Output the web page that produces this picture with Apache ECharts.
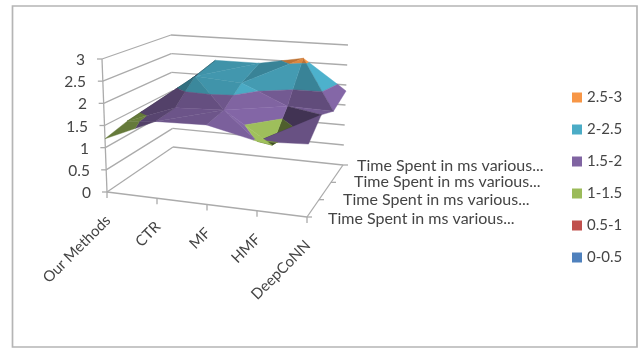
<!DOCTYPE html>
<html>
<head>
<meta charset="utf-8">
<style>html,body{margin:0;padding:0;background:#fff}#chart{width:638px;height:349px}</style>
<script src="https://cdn.jsdelivr.net/npm/echarts@6/dist/echarts.min.js"></script>
</head>
<body>
<div id="chart"></div>
<script>
// Methods along the front edge, runs along the depth edge.
var methods = ['Our Methods', 'CTR', 'MF', 'HMF', 'DeepCoNN'];
var runLabels = ['Time Spent in ms various...', 'Time Spent in ms various...', 'Time Spent in ms various...', 'Time Spent in ms various...'];
var valueTicks = [0, 0.5, 1, 1.5, 2, 2.5, 3];

// Time spent per method, one list per run (front to back).
var run1 = [1.2, 1.7, 1.73, 1.48, 1.53];
var run2 = [1.33, 1.75, 1.8, 1.1, 1.88];
var run3 = [1.25, 2.25, 2.17, 1.7, 1.67];
var run4 = [1.42, 2.4, 2.4, 2.6, 1.85];
var runs = [run1, run2, run3, run4];

var bandNames = ['2.5-3', '2-2.5', '1.5-2', '1-1.5', '0.5-1', '0-0.5'];
var bandLows = [2.5, 2, 1.5, 1, 0.5, 0];
var bandColors = ['#F79646', '#4BACC6', '#8064A2', '#9BBB59', '#C0504D', '#4F81BD'];

// Screen positions of the eight corners of the plot box.
var box = {
  floorFL: [107, 192], floorFR: [307, 217], floorBL: [173, 147], floorBR: [343, 165],
  topFL: [102, 59], topFR: [310, 74], topBL: [171, 35], topBR: [348, 45]
};
var zMax = 3;

function mix(a, b, t) { return [a[0] + (b[0] - a[0]) * t, a[1] + (b[1] - a[1]) * t]; }

// Maps (method index, run index, value) onto the page through the box corners.
function project(i, j, z) {
  var u = i / (methods.length - 1), v = j / (runs.length - 1), w = z / zMax;
  var floor = mix(mix(box.floorFL, box.floorFR, u), mix(box.floorBL, box.floorBR, u), v);
  var top = mix(mix(box.topFL, box.topFR, u), mix(box.topBL, box.topBR, u), v);
  return mix(floor, top, w);
}

function height(n) { return runs[n[1]][n[0]]; }
function vertex(n) { return [n[0], n[1], height(n)]; }

// Each cell folds along its higher diagonal; far cells and far triangles come first.
var facets = [];
for (var j = runs.length - 2; j >= 0; j--) {
  for (var i = methods.length - 2; i >= 0; i--) {
    var a = [i, j], b = [i + 1, j], c = [i + 1, j + 1], d = [i, j + 1];
    if (height(a) + height(c) >= height(b) + height(d)) {
      facets.push([a, c, d]);
      facets.push([a, b, c]);
    } else {
      facets.push([b, c, d]);
      facets.push([a, b, d]);
    }
  }
}

// Cuts a triangle down to the part lying between two values.
function clipBand(tri, lo, hi) {
  function cut(poly, keep, level) {
    var out = [];
    for (var k = 0; k < poly.length; k++) {
      var p = poly[k], q = poly[(k + 1) % poly.length];
      var kp = keep(p[2]), kq = keep(q[2]);
      if (kp) out.push(p);
      if (kp !== kq) {
        var t = (level - p[2]) / (q[2] - p[2]);
        out.push([p[0] + (q[0] - p[0]) * t, p[1] + (q[1] - p[1]) * t, level]);
      }
    }
    return out;
  }
  var res = cut(tri, function (z) { return z >= lo; }, lo);
  if (res.length) res = cut(res, function (z) { return z <= hi; }, hi);
  return res;
}

// Lambert-style brightness, lit mostly from the right of the box.
function brightness(tri) {
  var cellW = 0.55, cellD = 0.43, unit = 1 / 3;
  var p = tri[0], q = tri[1], r = tri[2];
  var e1 = [(q[0] - p[0]) * cellW, (q[1] - p[1]) * cellD, (q[2] - p[2]) * unit];
  var e2 = [(r[0] - p[0]) * cellW, (r[1] - p[1]) * cellD, (r[2] - p[2]) * unit];
  var n = [e1[1] * e2[2] - e1[2] * e2[1], e1[2] * e2[0] - e1[0] * e2[2], e1[0] * e2[1] - e1[1] * e2[0]];
  if (n[2] < 0) n = [-n[0], -n[1], -n[2]];
  var len = Math.sqrt(n[0] * n[0] + n[1] * n[1] + n[2] * n[2]);
  var lit = (0.9 * n[0] + 0.15 * n[1] + 0.4 * n[2]) / len;
  var f = Math.max(0.5, Math.min(1.03, 0.87 + 0.75 * (lit - 0.4)));
  var p0 = project(p[0], p[1], p[2]), p1 = project(q[0], q[1], q[2]), p2 = project(r[0], r[1], r[2]);
  var area = (p1[0] - p0[0]) * (p2[1] - p0[1]) - (p1[1] - p0[1]) * (p2[0] - p0[0]);
  return area > 0 ? f * 0.75 : f;
}

function shade(hex, f) {
  var n = parseInt(hex.slice(1), 16);
  var c = [n >> 16, (n >> 8) & 255, n & 255].map(function (x) {
    return Math.max(0, Math.min(255, Math.round(x * f)));
  });
  return 'rgb(' + c.join(',') + ')';
}

function bandSeries(b) {
  var lo = bandLows[b], hi = lo + 0.5;
  var items = [];
  facets.forEach(function (f, order) {
    if (clipBand(f.map(vertex), lo, hi).length >= 3) items.push([order]);
  });
  return {
    type: 'custom',
    name: bandNames[b],
    coordinateSystem: 'cartesian2d',
    itemStyle: { color: bandColors[b] },
    silent: true,
    z: 3,
    data: items,
    encode: { x: [], y: [] },
    renderItem: function (params, api) {
      var order = api.value(0);
      var tri = facets[order].map(vertex);
      var poly = clipBand(tri, lo, hi);
      var fill = shade(bandColors[b], brightness(tri));
      return {
        type: 'polygon',
        z2: order * 2 + 10,
        shape: { points: poly.map(function (p) { return api.coord(project(p[0], p[1], p[2])); }) },
        style: { fill: fill, stroke: fill, lineWidth: 0.4 }
      };
    }
  };
}

var lineColor = '#ababab';
var textColor = '#454545';
var textFont = 'Lato, "Open Sans", sans-serif';

function line(api, p0, p1) {
  var p = api.coord(p0), q = api.coord(p1);
  return { type: 'line', shape: { x1: p[0], y1: p[1], x2: q[0], y2: q[1] }, style: { stroke: lineColor, lineWidth: 1.3 } };
}
function label(api, at, text, align, size, rotation) {
  var p = api.coord(at);
  return {
    type: 'text', x: p[0], y: p[1], rotation: rotation || 0,
    style: { text: text, fill: textColor, font: size + 'px ' + textFont, align: align, verticalAlign: 'middle' }
  };
}

var lastI = methods.length - 1, lastJ = runs.length - 1;

// Walls, floor, ticks and tick labels of the box.
var frameSeries = {
  type: 'custom',
  name: 'frame',
  coordinateSystem: 'cartesian2d',
  silent: true,
  z: 2,
  data: [[0]],
  encode: { x: [], y: [] },
  renderItem: function (params, api) {
    var kids = [];
    valueTicks.forEach(function (t) {
      var fl = project(0, 0, t), bl = project(0, lastJ, t), br = project(lastI, lastJ, t);
      kids.push(line(api, fl, bl), line(api, bl, br));
      kids.push(line(api, fl, [fl[0] - 5, fl[1]]));
      kids.push(label(api, [fl[0] - 17 + (3 - t) * 0.3, fl[1] + 1], String(t), 'right', 15.5));
    });
    kids.push(line(api, project(0, 0, 0), project(0, 0, zMax)));
    kids.push(line(api, project(0, 0, 0), project(lastI, 0, 0)));
    kids.push(line(api, project(lastI, 0, 0), project(lastI, lastJ, 0)));
    methods.forEach(function (m, i) {
      var p = project(i, 0, 0);
      kids.push(line(api, p, [p[0], p[1] + 6]));
      kids.push(label(api, [p[0] + 1, p[1] + 26], m, 'right', 15, Math.PI / 4));
    });
    runLabels.forEach(function (r, j) {
      var p = project(lastI, j, 0);
      kids.push(line(api, p, [p[0] + 5, p[1]]));
      kids.push(label(api, [p[0] + [21, 24, 23, 14][j], p[1] + [2, 0, 0, 1][j]], r, 'left', 16));
    });
    return { type: 'group', children: kids };
  }
};

var chart = echarts.init(document.getElementById('chart'), null, { renderer: 'canvas' });
chart.setOption({
  animation: false,
  backgroundColor: '#ffffff',
  grid: { left: 0, right: 0, top: 0, bottom: 0 },
  xAxis: { type: 'value', min: 0, max: 638, show: false },
  yAxis: { type: 'value', min: 0, max: 349, inverse: true, show: false },
  graphic: [{
    type: 'rect', silent: true, z: 1,
    shape: { x: 12.5, y: 6, width: 624.5, height: 341 },
    style: { fill: 'none', stroke: '#b5b5b5', lineWidth: 1.7 }
  }],
  legend: {
    orient: 'vertical', left: 572, top: 90, padding: 0, selectedMode: false,
    data: bandNames.map(function (n) { return { name: n, icon: 'rect' }; }),
    itemWidth: 10, itemHeight: 10, itemGap: 17,
    textStyle: { color: textColor, fontFamily: textFont, fontSize: 15 }
  },
  series: [frameSeries].concat(bandNames.map(function (n, b) { return bandSeries(b); }))
});
</script>
</body>
</html>
